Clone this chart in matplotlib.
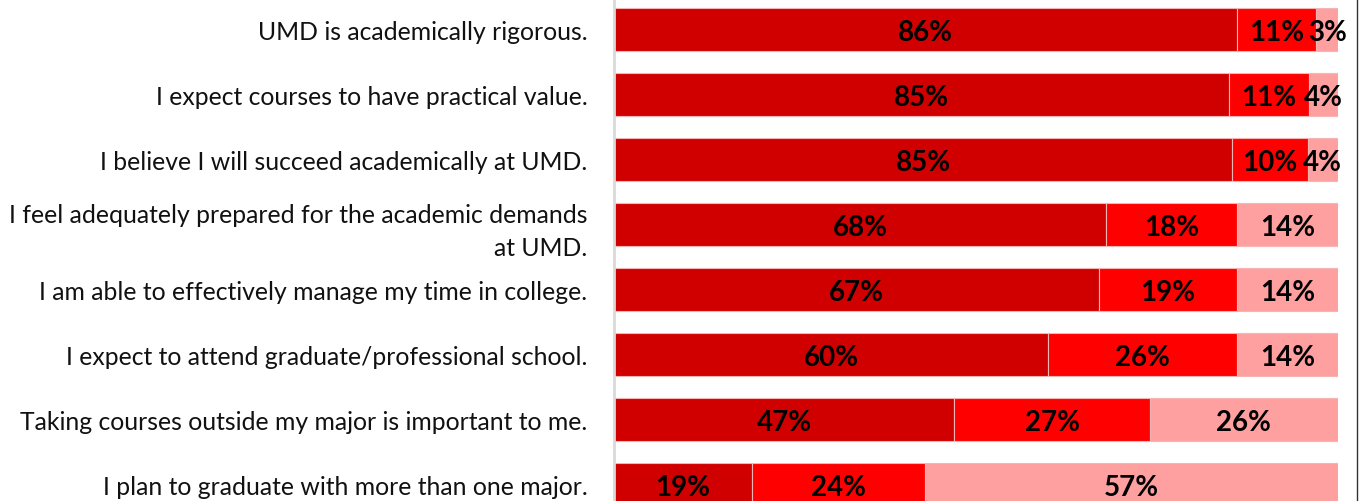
import matplotlib.pyplot as plt
from matplotlib.lines import Line2D

statements = [
    'UMD is academically rigorous.',
    'I expect courses to have practical value.',
    'I believe I will succeed academically at UMD.',
    'I feel adequately prepared for the academic demands\nat UMD.',
    'I am able to effectively manage my time in college.',
    'I expect to attend graduate/professional school.',
    'Taking courses outside my major is important to me.',
    'I plan to graduate with more than one major.',
]
# segment shares and the printed labels
agree = [86, 85, 85.4, 68, 67, 60, 47, 19]
neutral = [11, 11, 10.4, 18, 19, 26, 27, 24]
disagree = [3, 4, 4.2, 14, 14, 14, 26, 57]
agree_lbl = ['86%', '85%', '85%', '68%', '67%', '60%', '47%', '19%']
neutral_lbl = ['11%', '11%', '10%', '18%', '19%', '26%', '27%', '24%']
disagree_lbl = ['3%', '4%', '4%', '14%', '14%', '14%', '26%', '57%']

colors = ['#D00000', '#FF0000', '#FFA0A0']

plt.rcParams['font.family'] = ['Lato', 'DejaVu Sans']

fig = plt.figure(figsize=(13.6, 5.02), dpi=100)
ax = fig.add_axes([614 / 1360, 0, 724 / 1360, 1])

ypos = list(range(len(statements)))
left = [0] * len(statements)
for vals, lbls, col in zip([agree, neutral, disagree],
                           [agree_lbl, neutral_lbl, disagree_lbl], colors):
    ax.barh(ypos, vals, left=left, height=0.66, color=col,
            edgecolor='#F5B5B5', linewidth=0.8)
    for y, l, v, t in zip(ypos, left, vals, lbls):
        ax.text(l + v / 2, y + 0.04, t, ha='center', va='center',
                fontsize=20, fontweight='bold', color='black')
    left = [a + b for a, b in zip(left, vals)]

ax.set_xlim(0, 100)
ax.set_ylim((502 - 30.5) / 65, -30.5 / 65)
ax.set_yticks(ypos)
ax.set_yticklabels(statements, fontsize=17.8, color='#111111', linespacing=1.5)
ax.tick_params(axis='y', length=0, pad=19)
ax.set_xticks([])
for s in ['top', 'right', 'bottom']:
    ax.spines[s].set_visible(False)
ax.spines['left'].set_color('#D9D9D9')
ax.spines['left'].set_linewidth(2)

fig.add_artist(Line2D([1357 / 1360, 1357 / 1360], [0, 1], color='#333333',
                      linewidth=1, transform=fig.transFigure))

fig.savefig('out.png', dpi=100)
